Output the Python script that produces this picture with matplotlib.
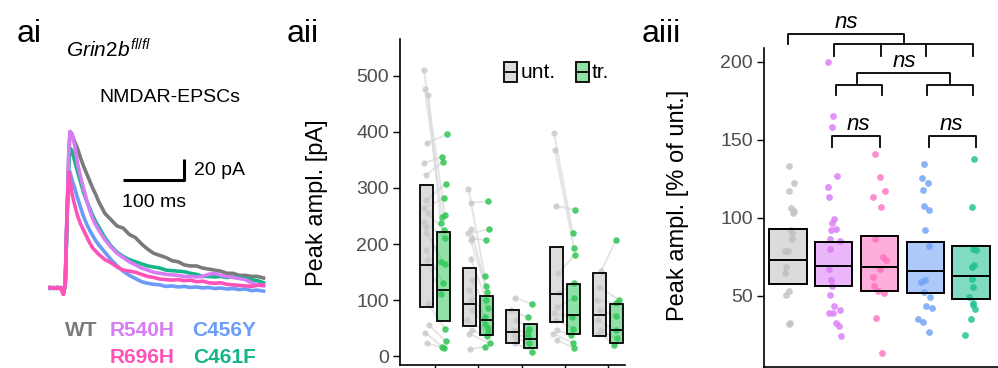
import matplotlib.pyplot as plt
import numpy as np

plt.rcParams['font.family'] = ['Liberation Sans', 'DejaVu Sans']
plt.rcParams['mathtext.fontset'] = 'custom'
plt.rcParams['mathtext.it'] = 'Liberation Sans:italic'
plt.rcParams['mathtext.rm'] = 'Liberation Sans'

# ---- ai: example NMDAR-EPSC traces (ms, pA) ----
t_ms = [0, 6, 12, 18, 22, 25, 28, 31, 33, 36, 40, 45, 50, 55, 60, 65, 70, 75, 80,
        90, 100, 110, 120, 130, 140, 150, 160, 170, 180, 190, 200, 210, 220, 230,
        240, 250, 260, 270, 280, 290, 300, 310, 320, 330, 340, 350]
wt = [0.5, -0.5, 0.8, -1, -6, 5, 70, 130, 149, 146, 140, 133, 124, 116, 109, 102, 95, 89, 82,
      71, 65, 59, 57, 51, 48, 42, 37, 33, 31, 29, 26, 25, 22, 21,
      21, 19, 18, 17, 16, 14, 14, 12, 12, 11, 11, 9.5]
r540h = [0, 0.5, -0.5, 0.5, -6, 5, 75, 135, 149, 147, 137, 119, 106, 95, 84, 74, 66, 60, 55,
         46, 39, 33, 29, 25, 22, 19, 17, 15, 14, 13, 12.5, 12, 11, 11,
         10.5, 11, 13, 14, 12, 11, 10, 9, 8, 5, 3, 2]
c461f = [-0.5, 0.5, 0, -0.5, -5, 4, 65, 120, 133, 131, 122, 111, 101, 91, 83, 76, 69, 63, 58,
         48, 40, 34, 30, 27, 25, 23, 21, 20, 19, 17, 16.5, 16, 15.5, 14,
         13, 11, 11, 10.5, 11, 10, 10.5, 10, 9, 8, 7, 5]
c456y = [0, -0.5, 0.5, 0, -5, 3, 70, 112, 110, 103, 96, 86, 77, 68, 61, 55, 50, 45, 41,
         34, 27, 21, 16, 12, 9, 6, 4.5, 3.5, 3, 1.5, 2, 1, 1.5, 0.5,
         1, 0, 0.5, -0.5, 0, -1, -0.5, -1.5, -1, -2.5, -2, -3]
r696h = [0.5, 0, -0.5, 0.5, -6, 4, 75, 110, 103, 90, 80, 69, 61, 55, 49, 43, 38, 35, 32,
         27, 24, 20, 17, 16, 15, 13, 11, 10, 8.5, 8, 7.5, 8, 7, 7.5,
         6, 6.5, 5, 4.5, 5, 3.5, 3, 2.5, 2, 1.5, 2.5, 3]

# ---- aii: peak amplitudes, untransfected vs transfected (pA) ----
unt_g1 = [511, 476, 466, 380, 344, 323, 279, 264, 255, 240, 231, 219, 189, 171, 94, 55, 42, 23]
tr_g1 = [252, 249, 237, 396, 356, 347, 308, 282, 225, 210, 168, 165, 130, 110, 49, 26, 17, 14]
unt_g2 = [299, 274, 226, 219, 210, 207, 174, 136, 118, 100, 82, 64, 46, 40, 12]
tr_g2 = [142, 276, 125, 226, 207, 115, 100, 85, 70, 58, 50, 43, 35, 23, 17]
unt_g3 = [104, 82, 64, 46, 37.5, 31.5, 23]
tr_g3 = [93, 69, 49, 43, 35, 23, 8]
unt_g4 = [399, 367, 268, 148, 112, 88, 76, 64, 46, 40, 29]
tr_g4 = [219, 192, 261, 180, 131, 103, 70, 49, 37.5, 23, 14]
unt_g5 = [152, 124, 100, 82, 64, 46, 40]
tr_g5 = [207, 100, 94, 71, 46, 32, 20]
unt_lo = [87, 54, 23, 61, 36]
unt_med = [162, 93, 43, 110, 73]
unt_hi = [305, 158, 82, 195, 148]
tr_lo = [62, 37, 15, 40, 23]
tr_med = [118, 64, 30, 73, 46]
tr_hi = [222, 108, 57, 129, 93]

# ---- aiii: peak amplitude normalised (% of unt.) ----
pct_wt = [133.1, 122.4, 117.1, 106.2, 104.5, 102.8, 92.1, 90.4, 86.6, 78.9, 78.5, 68.6,
          64.8, 53.2, 50.2, 32.3, 31.9]
pct_r540h = [200, 165.2, 158.4, 126.7, 119.9, 113.1, 98.9, 96.8, 92.9, 92.1, 86.1, 85.3,
             79.7, 66.9, 60.1, 56.2, 50.2, 43.4, 40.8, 39.1, 38.7, 32.7, 30.6, 24.2]
pct_r696h = [140.6, 126.3, 117.3, 113.1, 106.6, 86.1, 74.6, 72.9, 66.9, 61.8, 56.2, 53.2,
             51.5, 35.5, 13.5]
pct_c456y = [134.4, 125.2, 122.4, 117.8, 107.5, 104.9, 92.1, 81.9, 60.1, 59, 52.6, 49.4,
             43.4, 41.9, 34.8, 33.3, 26.9]
pct_c461f = [137.4, 107, 79.7, 79.3, 69.7, 68.6, 60.5, 55.4, 49.4, 45.5, 44, 41.3, 34.8, 24.8]
pct_lo = [57.3, 56.4, 52.8, 51.5, 48]
pct_med = [72.9, 69, 68.6, 65.8, 62.8]
pct_hi = [92.5, 84.4, 88.3, 84.2, 82]

variants = ['WT', 'R540H', 'C456Y', 'R696H', 'C461F']
trace_cols = {'WT': '#7a7a7a', 'R540H': '#d77cf2', 'C456Y': '#6a9cf8',
              'R696H': '#ff52b8', 'C461F': '#14b58a'}
dot_cols = ['#c4c4c4', '#dc82f6', '#ff78c6', '#75a6f6', '#26c497']

W, H = 998, 368
def fx(px):
    return px / W
def fy(py):
    return 1 - py / H

fig = plt.figure(figsize=(9.98, 3.68), dpi=100)
rng = np.random.default_rng(3)

# ================= ai =================
ax1 = fig.add_axes([fx(40), fy(305), 240 / W, 195 / H])
for name, y in [('WT', wt), ('C461F', c461f), ('C456Y', c456y), ('R540H', r540h), ('R696H', r696h)]:
    ax1.plot(t_ms, y, color=trace_cols[name], lw=2.6, solid_joinstyle='round')
# scale bar 100 ms / 20 pA
ax1.plot([120, 220, 220], [103, 103, 123], color='black', lw=2.2, solid_capstyle='butt')
ax1.set_xlim(-16.4, 377)
ax1.set_ylim(-16.2, 169.5)
ax1.axis('off')

fig.text(fx(17), fy(42), 'ai', fontsize=23, va='baseline')
fig.text(fx(66), fy(58), r'$Grin2b^{fl/fl}$', fontsize=15, va='baseline')
fig.text(fx(99), fy(102), 'NMDAR-EPSCs', fontsize=14, va='baseline')
fig.text(fx(194), fy(175), '20 pA', fontsize=14, va='baseline')
fig.text(fx(122), fy(207), '100 ms', fontsize=14, va='baseline')
leg_pos = {'WT': (65, 336), 'R540H': (110, 336), 'C456Y': (192, 336),
           'R696H': (110, 363), 'C461F': (193, 363)}
for name in variants:
    px, py = leg_pos[name]
    fig.text(fx(px), fy(py), name, fontsize=15, fontweight='bold',
             color=trace_cols[name], va='baseline')

# ================= aii =================
ax2 = fig.add_axes([fx(400), fy(365), 225 / W, 326 / H])
unt_all = [unt_g1, unt_g2, unt_g3, unt_g4, unt_g5]
tr_all = [tr_g1, tr_g2, tr_g3, tr_g4, tr_g5]
pos = np.arange(1, 6)
off = 0.2
bw = 0.3
for i, (u, t) in enumerate(zip(unt_all, tr_all)):
    xu = pos[i] - off + rng.uniform(-0.07, 0.07, len(u))
    xt = pos[i] + off + rng.uniform(-0.07, 0.07, len(t))
    for a, b, c, d in zip(xu, xt, u, t):
        ax2.plot([a, b], [c, d], color='#d4d4d4', lw=1.4, alpha=0.6, zorder=1)
    ax2.scatter(xu, u, s=20, color='#c8c8c8', alpha=0.8, lw=0, zorder=2)
    ax2.scatter(xt, t, s=22, color='#2fc653', alpha=0.85, lw=0, zorder=2)
ax2.bar(pos - off, np.array(unt_hi) - np.array(unt_lo), bottom=unt_lo, width=bw,
        color=(0.78, 0.78, 0.78, 0.6), edgecolor='black', lw=1.3, zorder=3)
ax2.bar(pos + off, np.array(tr_hi) - np.array(tr_lo), bottom=tr_lo, width=bw,
        color=(0.22, 0.78, 0.38, 0.55), edgecolor='black', lw=1.3, zorder=3)
ax2.hlines(unt_med, pos - off - bw / 2, pos - off + bw / 2, color='black', lw=1.3, zorder=4)
ax2.hlines(tr_med, pos + off - bw / 2, pos + off + bw / 2, color='black', lw=1.3, zorder=4)
ax2.set_xlim(0.19, 5.39)
ax2.set_ylim(-16, 566)
ax2.set_yticks([0, 100, 200, 300, 400, 500])
ax2.set_xticks(pos)
ax2.set_xticklabels([])
ax2.tick_params(axis='y', labelsize=14, labelcolor='#4d4d4d', length=5, width=1, pad=3)
ax2.tick_params(axis='x', length=3, width=1)
for s in ['top', 'right']:
    ax2.spines[s].set_visible(False)
for s in ['left', 'bottom']:
    ax2.spines[s].set_linewidth(1.2)

# legend drawn as small crossbar glyphs
for x0, fc, lab in [(0.462, (0.78, 0.78, 0.78, 0.6), 'unt.'), (0.780, (0.22, 0.78, 0.38, 0.55), 'tr.')]:
    ax2.add_patch(plt.Rectangle((x0, 0.868), 0.06, 0.061, transform=ax2.transAxes,
                                facecolor=fc, edgecolor='black', lw=1.3, clip_on=False))
    ax2.plot([x0, x0 + 0.06], [0.8985, 0.8985], transform=ax2.transAxes, color='black',
             lw=1.3, clip_on=False)
    ax2.text(x0 + 0.072, 0.8985, lab, transform=ax2.transAxes, fontsize=15, va='center')

fig.text(fx(287), fy(42), 'aii', fontsize=23, va='baseline')
fig.text(fx(317), fy(203), 'Peak ampl. [pA]', fontsize=17, rotation=90,
         ha='center', va='center')

# ================= aiii =================
ax3 = fig.add_axes([fx(764), fy(367), 234 / W, (367 - 48.3) / H])
pct_all = [pct_wt, pct_r540h, pct_r696h, pct_c456y, pct_c461f]
bw3 = 0.81
for i, vals in enumerate(pct_all):
    xs = pos[i] + rng.uniform(-0.15, 0.15, len(vals))
    ax3.scatter(xs, vals, s=24, color=dot_cols[i], alpha=0.85, lw=0, zorder=2)
box_fc = [(0.75, 0.75, 0.75, 0.55), (0.86, 0.47, 0.97, 0.55), (1.0, 0.42, 0.74, 0.55),
          (0.42, 0.62, 0.96, 0.55), (0.10, 0.75, 0.57, 0.55)]
ax3.bar(pos, np.array(pct_hi) - np.array(pct_lo), bottom=pct_lo, width=bw3,
        color=box_fc, edgecolor='black', lw=1.4, zorder=3)
ax3.hlines(pct_med, pos - bw3 / 2, pos + bw3 / 2, color='black', lw=1.4, zorder=4)
ax3.set_xlim(0.475, 5.59)
ax3.set_ylim(4.3, 208.6)
ax3.set_yticks([50, 100, 150, 200])
ax3.set_xticks([])
ax3.tick_params(axis='y', labelsize=14, labelcolor='#4d4d4d', length=5, width=1, pad=3)
for s in ['top', 'right']:
    ax3.spines[s].set_visible(False)
for s in ['left', 'bottom']:
    ax3.spines[s].set_linewidth(1.2)


def bracket(x1, x2, y, drop, ticks=()):
    kw = dict(color='black', lw=1.3, clip_on=False, zorder=5)
    ax3.plot([x1, x1, x2, x2], [y - drop, y, y, y - drop], **kw)
    for xt in ticks:
        ax3.plot([xt, xt], [y, y - drop], **kw)


bracket(1.0, 3.54, 217.8, 6.6)
bracket(2.0, 5.05, 211.2, 7.5, ticks=(3.03, 4.02))
ax3.text(2.27, 221.4, 'ns', style='italic', fontsize=16, ha='center', va='baseline')
ax3.plot([2.5, 2.5, 4.55, 4.55], [186.2, 193, 193, 186.2], color='black', lw=1.3,
         clip_on=False, zorder=5)
bracket(2.05, 3.05, 185, 6.3)
bracket(4.03, 5.05, 185, 6.3)
ax3.text(3.55, 196.8, 'ns', style='italic', fontsize=16, ha='center', va='baseline')
bracket(1.96, 3.0, 152.4, 6.9)
bracket(4.08, 5.1, 152.4, 6.9)
ax3.text(2.53, 156.2, 'ns', style='italic', fontsize=16, ha='center', va='baseline')
ax3.text(4.58, 156.2, 'ns', style='italic', fontsize=16, ha='center', va='baseline')

fig.text(fx(642), fy(42), 'aiii', fontsize=23, va='baseline')
fig.text(fx(678), fy(205), 'Peak ampl. [% of unt.]', fontsize=17, rotation=90,
         ha='center', va='center')

fig.savefig('out.png', dpi=100)
